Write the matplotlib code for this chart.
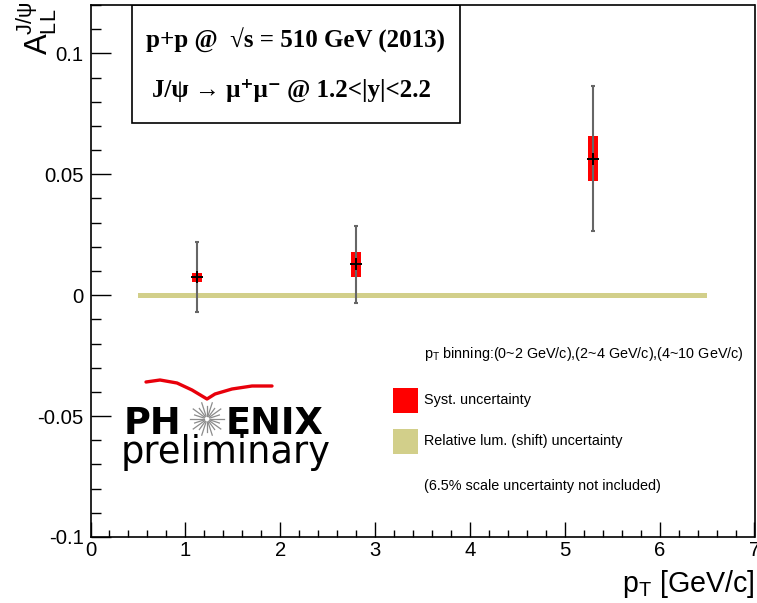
"""Double helicity asymmetry A_LL of J/psi vs pT (PHENIX preliminary style)."""

import numpy as np
import matplotlib
matplotlib.use("Agg")
import matplotlib.pyplot as plt
from matplotlib import font_manager
from matplotlib.patches import Rectangle
from matplotlib.ticker import MultipleLocator

# data
pt = [1.12, 2.80, 5.30]
a_ll = [0.0074, 0.0127, 0.0565]
stat_err = [0.0144, 0.0160, 0.0301]
syst_err = [0.0019, 0.0050, 0.0093]
lum_range = [0.5, 6.5]
lum_err = 0.0011

W, H = 757, 603

names = {f.name for f in font_manager.fontManager.ttflist}
if "Liberation Sans Narrow" in names:
    SANS = "Liberation Sans Narrow"
    scale = 1.0
else:
    SANS = "Liberation Sans"
    scale = 0.86

plt.rcParams["font.family"] = [SANS, "DejaVu Sans"]
plt.rcParams["mathtext.default"] = "regular"


def px(x, y):
    """pixel position -> figure fraction"""
    return x / W, 1 - y / H


fig = plt.figure(figsize=(W / 100, H / 100), dpi=100)
ax = fig.add_axes([90.5 / W, 1 - 537 / H, (754.5 - 90.5) / W, (537 - 5) / H])

ax.set_xlim(0, 7)
ax.set_ylim(-0.1, 0.12)

# relative luminosity band
ax.fill_between(lum_range, -lum_err, lum_err, color="#d2cf8a", lw=0, zorder=2)

# systematic boxes
for x, y, s in zip(pt, a_ll, syst_err):
    ax.add_patch(Rectangle((x - 0.053, y - s), 0.106, 2 * s, color="red", lw=0, zorder=3))

ax.errorbar(pt, a_ll, yerr=stat_err, fmt="none", ecolor="#666666", elinewidth=1.5,
            capsize=1.5, capthick=1.5, zorder=4)
ax.plot(pt, a_ll, "+", color="black", ms=8, mew=1.4, zorder=5)

# axes styling, ROOT like
for sp in ax.spines.values():
    sp.set_linewidth(1.2)
ax.xaxis.set_major_locator(MultipleLocator(1))
ax.xaxis.set_minor_locator(MultipleLocator(0.2))
ax.yaxis.set_major_locator(MultipleLocator(0.05))
ax.yaxis.set_minor_locator(MultipleLocator(0.01))
ax.tick_params(axis="x", which="major", direction="in", length=10.8, width=1, pad=3,
               labelsize=17 * scale)
ax.tick_params(axis="x", which="minor", direction="in", length=5.4, width=1)
ax.tick_params(axis="y", which="major", direction="in", length=14.4, width=1, pad=5,
               labelsize=17 * scale)
ax.tick_params(axis="y", which="minor", direction="in", length=7.2, width=1)
ax.set_yticks([-0.1, -0.05, 0, 0.05, 0.1])
ax.set_yticklabels(["-0.1", "-0.05", "0", "0.05", "0.1"])

fig.text(*px(755, 592), r"$p_{T}$ [GeV/c]", ha="right", va="baseline",
         fontsize=24 * scale)
fig.text(*px(37, 1), r"$A_{LL}^{J/\psi}$", rotation=90, ha="center", va="top",
         fontsize=26 * scale)

# info box
ax.add_patch(Rectangle((px(132, 0)[0], px(0, 123)[1]),
                       (460 - 132) / W, (123 - 5) / H, transform=fig.transFigure,
                       fill=False, ec="black", lw=1.2, zorder=6))
serif = ["Liberation Serif", "DejaVu Serif"]
fig.text(*px(295, 40), "p+p @  \u221as = 510 GeV (2013)", ha="center", va="center",
         fontsize=18, fontweight="bold", family=serif)
fig.text(*px(292, 90), "J/\u03c8 \u2192 \u03bc\u207a\u03bc\u207b @ 1.2<|y|<2.2",
         ha="center", va="center", fontsize=18, fontweight="bold", family=serif)

# legend
fig.text(*px(424, 354), r"$p_{T}$ binning:(0~2 GeV/c),(2~4 GeV/c),(4~10 GeV/c)",
         ha="left", va="center", fontsize=12 * scale)
leg_rows = [(400, "red", "Syst. uncertainty"),
            (441, "#d2cf8a", "Relative lum. (shift) uncertainty")]
for yy, col, lab in leg_rows:
    x0, y0 = px(393, yy + 12.5)
    fig.patches.append(Rectangle((x0, y0), 25 / W, 25 / H, transform=fig.transFigure,
                                 color=col, lw=0))
    fig.text(*px(424, yy), lab, ha="left", va="center", fontsize=12 * scale)
fig.text(*px(424, 486), "(6.5% scale uncertainty not included)", ha="left",
         va="center", fontsize=12 * scale)

# PHENIX preliminary logo
fig.text(*px(124, 434), "PH", ha="left", va="baseline", fontsize=26.5,
         fontweight="bold", family="DejaVu Sans")
fig.text(*px(226, 434), "ENIX", ha="left", va="baseline", fontsize=26.5,
         fontweight="bold", family="DejaVu Sans")
fig.text(*px(121, 463), "preliminary", ha="left", va="baseline", fontsize=26.5,
         family="DejaVu Sans")
cx, cy = 207, 419
for k in range(20):
    ang = 2 * np.pi * k / 20
    r1 = 17 if k % 2 == 0 else 13
    xs = [cx + 3 * np.cos(ang), cx + r1 * np.cos(ang)]
    ys = [cy + 3 * np.sin(ang), cy + r1 * np.sin(ang)]
    fig.lines.append(plt.Line2D([x / W for x in xs], [1 - y / H for y in ys],
                                transform=fig.transFigure, color="#8c8c8c", lw=0.9))
sw_x = [146, 160, 177, 192, 207, 215, 232, 252, 272]
sw_y = [382, 380, 383, 390, 399, 394, 389, 386, 386]
fig.lines.append(plt.Line2D([x / W for x in sw_x], [1 - y / H for y in sw_y],
                            transform=fig.transFigure, color="#e8000b", lw=2.4,
                            solid_capstyle="round", solid_joinstyle="round"))

fig.savefig("out.png", dpi=100)
